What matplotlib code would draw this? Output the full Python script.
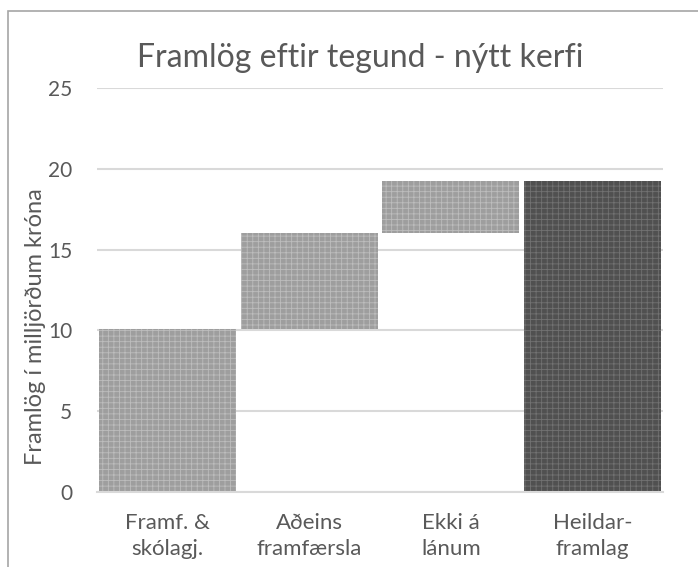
import numpy as np
import matplotlib.pyplot as plt
from matplotlib.patches import Rectangle

plt.rcParams['font.family'] = ['Lato', 'DejaVu Sans']
plt.rcParams['hatch.linewidth'] = 0.6

categories = ['Framf. &\nskólagj.', 'Aðeins\nframfærsla', 'Ekki á\nlánum', 'Heildar-\nframlag']
steps = [10.1, 5.95, 3.2]          # milljarðar króna
total = sum(steps)

bottoms = np.concatenate([[0], np.cumsum(steps)[:-1], [0]])
heights = np.array(steps + [total])

fig = plt.figure(figsize=(6.98, 5.67), dpi=100)
ax = fig.add_axes([0.139, 0.132, 0.811, 0.713])

x = np.arange(len(categories))
light = dict(facecolor='#9e9e9e', edgecolor='#bdbdbd', hatch='+++', linewidth=0)
dark = dict(facecolor='#505050', edgecolor='#727272', hatch='+++', linewidth=0)
for i in range(len(categories)):
    style = dark if i == len(categories) - 1 else light
    ax.bar(x[i], heights[i], bottom=bottoms[i], width=0.97, zorder=2, **style)

ax.set_ylim(0, 25)
ax.set_xlim(-0.5, 3.5)
ax.set_yticks(np.arange(0, 26, 5))
ax.yaxis.grid(True, color='#d9d9d9', linewidth=1.5, zorder=0)
ax.set_axisbelow(True)
for s in ['top', 'right', 'left']:
    ax.spines[s].set_visible(False)
ax.spines['bottom'].set_color('#d9d9d9')
ax.spines['bottom'].set_linewidth(1.5)
ax.tick_params(length=0, labelsize=15, colors='#595959')
ax.tick_params(axis='y', pad=18)
ax.tick_params(axis='x', pad=15)
ax.set_xticks(x)
ax.set_xticklabels(categories, linespacing=1.35, fontsize=16)
ax.set_ylabel('Framlög í milljörðum króna', fontsize=17, color='#595959')
ax.yaxis.set_label_coords(-0.09, 0.41)

fig.text(0.516, 0.898, 'Framlög eftir tegund - nýtt kerfi', ha='center', va='center',
         fontsize=23, color='#595959')

fig.patches.append(Rectangle((8 / 698, -0.1), 1.5, 1 - 11 / 567 + 0.1, transform=fig.transFigure,
                             fill=False, edgecolor='#a6a6a6', linewidth=1.2))

plt.savefig('out.png', dpi=100)
